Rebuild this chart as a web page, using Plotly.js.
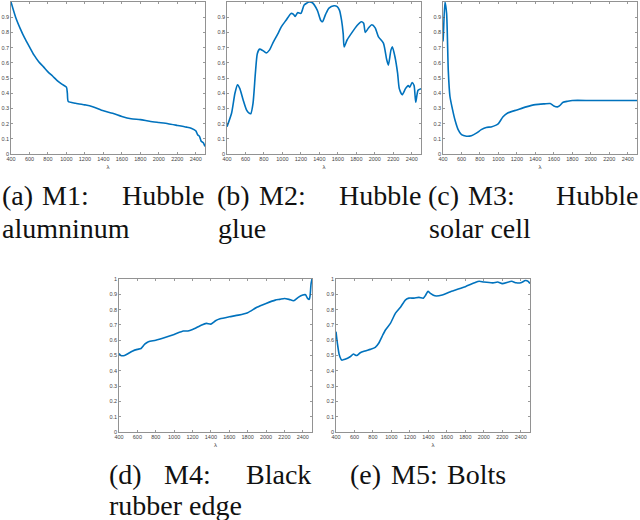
<!DOCTYPE html>
<html>
<head>
<meta charset="utf-8">
<script src="https://cdn.plot.ly/plotly-3.0.1.min.js"></script>
<style>
  html, body { margin: 0; padding: 0; background: #fff; }
  #spectra { width: 640px; height: 520px; }
</style>
</head>
<body>
<div id="spectra"></div>
<script>
// Reflectance spectra (wavelength in nm)
const m1Wavelength = [400, 450, 500, 550, 600, 650, 700, 750, 800, 850, 900, 950, 1000, 1010, 1020, 1100, 1200, 1250, 1300, 1400, 1500, 1600, 1700, 1800, 1900, 2000, 2100, 2200, 2300, 2350, 2400, 2420, 2440, 2460, 2480, 2500];
const m1Reflectance = [1.0, 0.90, 0.825, 0.76, 0.705, 0.65, 0.607, 0.575, 0.54, 0.513, 0.483, 0.46, 0.44, 0.40, 0.345, 0.334, 0.323, 0.317, 0.308, 0.284, 0.268, 0.247, 0.232, 0.226, 0.215, 0.207, 0.199, 0.188, 0.177, 0.17, 0.153, 0.127, 0.116, 0.083, 0.076, 0.05];

const m2Wavelength = [400, 450, 486, 514, 539, 575, 611, 636, 657, 682, 707, 728, 753, 789, 825, 861, 896, 950, 986, 1039, 1093, 1118, 1139, 1164, 1200, 1235, 1289, 1325, 1378, 1414, 1433, 1468, 1504, 1558, 1593, 1618, 1640, 1658, 1668, 1700, 1754, 1808, 1854, 1879, 1897, 1933, 1968, 2004, 2040, 2093, 2129, 2147, 2175, 2190, 2218, 2247, 2265, 2297, 2332, 2361, 2379, 2404, 2425, 2443, 2468, 2500];
const m2Reflectance = [0.18, 0.27, 0.40, 0.455, 0.43, 0.355, 0.29, 0.27, 0.265, 0.335, 0.53, 0.66, 0.69, 0.68, 0.665, 0.685, 0.73, 0.79, 0.835, 0.88, 0.925, 0.92, 0.905, 0.93, 0.925, 0.98, 1.0, 0.995, 0.945, 0.88, 0.87, 0.92, 0.96, 0.975, 0.97, 0.945, 0.88, 0.79, 0.705, 0.75, 0.80, 0.845, 0.87, 0.86, 0.80, 0.83, 0.85, 0.83, 0.77, 0.73, 0.62, 0.585, 0.685, 0.705, 0.64, 0.53, 0.43, 0.39, 0.43, 0.45, 0.44, 0.47, 0.45, 0.34, 0.42, 0.43];

const m3Wavelength = [400, 404, 421, 439, 457, 475, 504, 529, 564, 600, 654, 707, 761, 814, 868, 921, 975, 1000, 1050, 1100, 1200, 1300, 1400, 1500, 1560, 1600, 1640, 1660, 1700, 1750, 1800, 2000, 2200, 2400, 2500];
const m3Reflectance = [0.74, 0.78, 1.0, 0.925, 0.55, 0.38, 0.29, 0.225, 0.16, 0.127, 0.117, 0.12, 0.137, 0.16, 0.175, 0.178, 0.19, 0.2, 0.245, 0.27, 0.29, 0.31, 0.325, 0.33, 0.332, 0.316, 0.31, 0.316, 0.34, 0.347, 0.352, 0.352, 0.352, 0.352, 0.352];

const m4Wavelength = [400, 420, 460, 500, 550, 600, 640, 680, 720, 800, 900, 1000, 1100, 1150, 1200, 1300, 1350, 1400, 1450, 1500, 1600, 1700, 1800, 1900, 2000, 2100, 2150, 2200, 2250, 2300, 2350, 2400, 2430, 2450, 2470, 2480, 2490, 2500];
const m4Reflectance = [0.513, 0.50, 0.50, 0.513, 0.53, 0.54, 0.546, 0.574, 0.59, 0.60, 0.618, 0.638, 0.66, 0.66, 0.67, 0.70, 0.71, 0.705, 0.727, 0.74, 0.753, 0.764, 0.78, 0.815, 0.84, 0.862, 0.867, 0.873, 0.867, 0.858, 0.88, 0.895, 0.897, 0.875, 0.867, 0.895, 0.97, 1.0];

const m5Wavelength = [400, 415, 436, 462, 498, 553, 589, 607, 625, 662, 716, 771, 825, 862, 898, 935, 989, 1044, 1098, 1153, 1189, 1244, 1298, 1345, 1371, 1396, 1418, 1470, 1550, 1650, 1700, 1800, 1900, 1950, 2000, 2100, 2150, 2200, 2300, 2350, 2400, 2450, 2480, 2500];
const m5Reflectance = [0.656, 0.58, 0.503, 0.47, 0.475, 0.492, 0.51, 0.503, 0.50, 0.518, 0.53, 0.54, 0.553, 0.58, 0.624, 0.667, 0.71, 0.777, 0.816, 0.864, 0.875, 0.875, 0.88, 0.875, 0.895, 0.92, 0.908, 0.89, 0.895, 0.92, 0.93, 0.95, 0.975, 0.985, 0.98, 0.975, 0.98, 0.97, 0.985, 0.975, 0.975, 0.99, 0.985, 0.97];

const xTicks = [400, 600, 800, 1000, 1200, 1400, 1600, 1800, 2000, 2200, 2400];
const yTicks = [0, 0.1, 0.2, 0.3, 0.4, 0.5, 0.6, 0.7, 0.8, 0.9, 1];

// caption words: [text, x in px, anchor, line centre y in px]
const captionWords = [
    ['(a)', 0, 'left', 195], ['M1:', 40, 'left', 195], ['Hubble', 206, 'right', 195], ['alumninum', 0, 'left', 228],
    ['(b)', 215, 'left', 195], ['M2:', 257, 'left', 195], ['Hubble', 423, 'right', 195], ['glue', 216, 'left', 228],
    ['(c)', 426, 'left', 195], ['M3:', 466, 'left', 195], ['Hubble', 640, 'right', 195], ['solar cell', 427, 'left', 228],
    ['(d)', 107, 'left', 474], ['M4:', 162, 'left', 474], ['Black', 313, 'right', 474], ['rubber edge', 107, 'left', 505],
    ['(e)', 348, 'left', 474], ['M5:', 389, 'left', 474], ['Bolts', 508, 'right', 474]
];

document.addEventListener('DOMContentLoaded', function() {
    createSpectraFigure();
});

function axisStyle(domain, anchor, isX) {
    return {
        domain: domain,
        anchor: anchor,
        range: isX ? [400, 2500] : [0, 1],
        tickvals: isX ? xTicks : yTicks,
        ticks: 'inside',
        ticklen: 2,
        tickwidth: 0.6,
        tickcolor: '#555',
        showline: true,
        linecolor: '#777',
        linewidth: 0.8,
        mirror: 'ticks',
        showgrid: false,
        zeroline: false,
        tickfont: {family: 'Liberation Sans, Arial, sans-serif', size: 5.5, color: '#444'},
        title: isX ? {text: 'λ', font: {family: 'Liberation Sans, sans-serif', size: 6, color: '#444'}, standoff: 3} : {text: ''},
        fixedrange: true
    };
}

function createSpectraFigure() {
    const W = 640, H = 520;
    const px = (a, b) => [a / W, b / W];
    const py = (top, bottom) => [1 - bottom / H, 1 - top / H];

    const panels = [
        {x: m1Wavelength, y: m1Reflectance, xd: px(11, 205), yd: py(2, 154)},
        {x: m2Wavelength, y: m2Reflectance, xd: px(227, 421), yd: py(2, 154)},
        {x: m3Wavelength, y: m3Reflectance, xd: px(443, 637), yd: py(2, 154)},
        {x: m4Wavelength, y: m4Reflectance, xd: px(119, 312), yd: py(279, 432)},
        {x: m5Wavelength, y: m5Reflectance, xd: px(336, 530), yd: py(279, 432)}
    ];

    const data = [];
    const layout = {
        width: W,
        height: H,
        margin: {t: 0, r: 0, b: 0, l: 0},
        showlegend: false,
        plot_bgcolor: '#fff',
        paper_bgcolor: '#fff',
        annotations: []
    };

    panels.forEach((p, i) => {
        const n = i === 0 ? '' : String(i + 1);
        data.push({
            x: p.x,
            y: p.y,
            xaxis: 'x' + n,
            yaxis: 'y' + n,
            type: 'scatter',
            mode: 'lines',
            line: {color: '#0072BD', width: 1.6, shape: 'spline', smoothing: 0.6},
            hoverinfo: 'skip'
        });
        layout['xaxis' + n] = axisStyle(p.xd, 'y' + n, true);
        layout['yaxis' + n] = axisStyle(p.yd, 'x' + n, false);
    });

    captionWords.forEach(w => {
        layout.annotations.push({
            text: w[0],
            x: w[1] / W,
            y: 1 - w[3] / H,
            xref: 'paper',
            yref: 'paper',
            xanchor: w[2],
            yanchor: 'middle',
            showarrow: false,
            font: {family: '"Liberation Serif", "Times New Roman", serif', size: 28, color: '#111'}
        });
    });

    Plotly.newPlot('spectra', data, layout, {staticPlot: true});
}
</script>
</body>
</html>
